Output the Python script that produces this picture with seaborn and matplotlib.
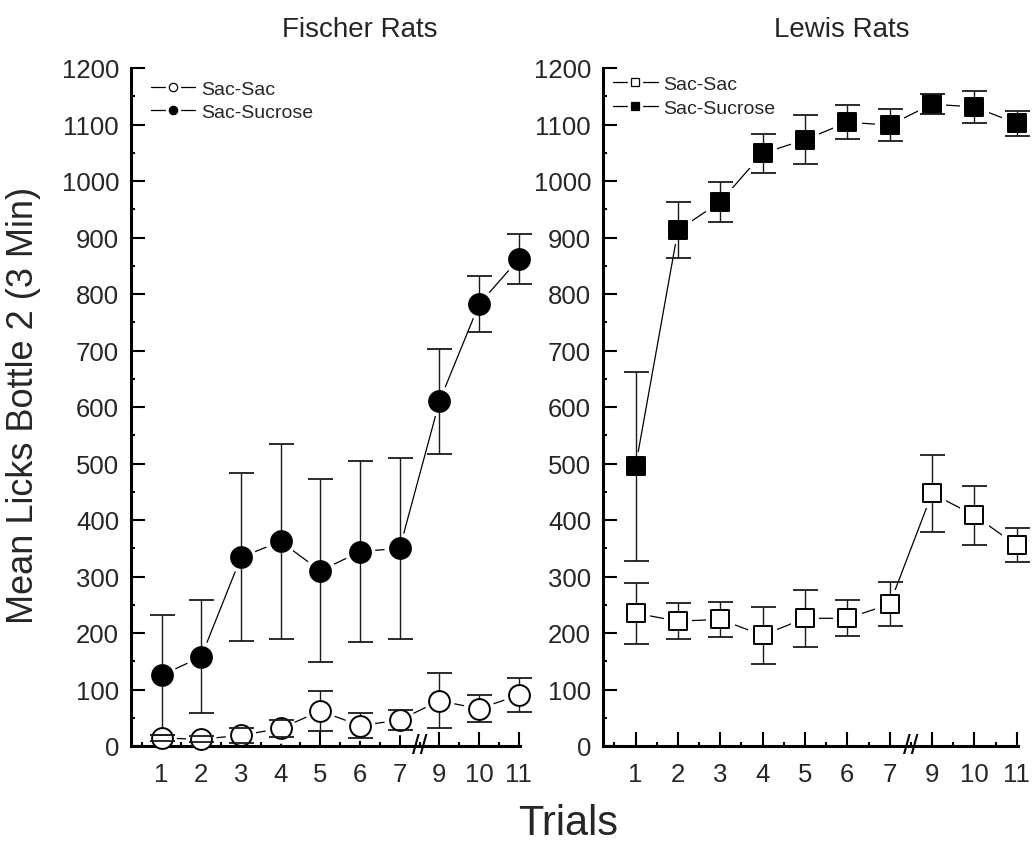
import numpy as np
import pandas as pd
import matplotlib
matplotlib.use("Agg")
import matplotlib.pyplot as plt
import matplotlib.transforms as mtransforms
from matplotlib.lines import Line2D
from matplotlib.legend_handler import HandlerTuple
from matplotlib.ticker import MultipleLocator
import seaborn as sns

# ---------------- data ----------------
trials = ['1', '2', '3', '4', '5', '6', '7', '9', '10', '11']

fischer_sac_mean = [14, 12, 19, 31, 62, 36, 46, 80, 66, 90]
fischer_sac_sem = [5, 5, 13, 15, 35, 22, 17, 49, 24, 30]
fischer_suc_mean = [125, 158, 334, 362, 310, 344, 350, 610, 782, 862]
fischer_suc_sem = [106, 100, 149, 172, 162, 160, 160, 93, 49, 44]

lewis_sac_mean = [235, 221, 224, 196, 226, 226, 251, 447, 408, 355]
lewis_sac_sem = [54, 32, 31, 50, 50, 32, 39, 68, 53, 30]
lewis_suc_mean = [495, 913, 963, 1049, 1073, 1104, 1099, 1136, 1131, 1102]
lewis_suc_sem = [167, 50, 36, 34, 43, 30, 29, 18, 29, 22]

series_labels = ['Sac-Sac', 'Sac-Sucrose']
panel_titles = ['Fischer Rats', 'Lewis Rats']
y_ticks = list(range(0, 1300, 100))

# ---------------- style ----------------
sns.set_style("ticks")
plt.rcParams['font.family'] = ['Liberation Sans', 'DejaVu Sans']

W, H = 1033, 845
fig = plt.figure(figsize=(W / 100, H / 100), dpi=100)
ax1 = fig.add_axes([131 / W, 1 - 747 / H, 389 / W, 678 / H])
ax2 = fig.add_axes([603 / W, 1 - 747 / H, 415 / W, 678 / H])

pos = np.arange(1, len(trials) + 1)


def draw_panel(ax, means, sems, marker, ms, leg_anchor):
    facecols = ['white', 'black']
    for m, e, fc in zip(means, sems, facecols):
        df = pd.DataFrame({'pos': pos, 'val': m})
        sns.lineplot(data=df, x='pos', y='val', ax=ax, color='black',
                     lw=0.9, estimator=None, zorder=1, legend=False,
                     clip_on=False)
        sns.scatterplot(data=df, x='pos', y='val', ax=ax, marker=marker,
                        s=(ms + 7) ** 2, color='white', edgecolor='none',
                        linewidth=0, zorder=2, legend=False, clip_on=False)
        eb = ax.errorbar(pos, m, yerr=e, fmt='none', ecolor='#1a1a1a',
                         elinewidth=1.0, capsize=9, capthick=1.3, zorder=3)
        for cl in eb[1]:
            cl.set_zorder(5)
            cl.set_clip_on(False)
        for bl in eb[2]:
            bl.set_clip_on(False)
        sns.scatterplot(data=df, x='pos', y='val', ax=ax, marker=marker,
                        s=ms ** 2, color=fc, edgecolor='black',
                        linewidth=1.4, zorder=4, legend=False, clip_on=False)

    ax.set_xlim(0.23, 10.03)
    ax.set_ylim(0, 1200)
    ax.set_xticks(pos)
    ax.set_xticklabels(trials)
    ax.set_yticks(y_ticks)
    ax.xaxis.set_minor_locator(MultipleLocator(0.5))
    ax.yaxis.set_minor_locator(MultipleLocator(50))
    ax.tick_params(axis='both', which='major', direction='in', length=10,
                   width=1.5, labelsize=18.5, color='black')
    ax.tick_params(axis='both', which='minor', direction='in', length=3,
                   width=1.5, color='black')
    ax.tick_params(axis='x', which='major', pad=11.5)
    ax.tick_params(axis='y', which='major', pad=8.6)
    ax.tick_params(top=False, right=False, which='both')
    for side in ['top', 'right']:
        ax.spines[side].set_visible(False)
    for side in ['left', 'bottom']:
        ax.spines[side].set_linewidth(2.2)
        ax.spines[side].set_color('black')
    ax.set_xlabel('')
    ax.set_ylabel('')

    # axis break mark between trial 7 and trial 9
    trans = mtransforms.blended_transform_factory(ax.transData, ax.transAxes)
    ax.text(7.5, 0.0, '//', transform=trans, ha='center', va='center',
            fontsize=20, color='black', clip_on=False, zorder=6)

    # legend with gapped line handles
    handles = []
    for fc in facecols:
        ln = Line2D([], [], color='black', lw=0.9)
        halo = Line2D([], [], ls='', marker=marker, ms=10, mfc='white', mec='white')
        mk = Line2D([], [], ls='', marker=marker, ms=6, mfc=fc, mec='black', mew=0.9)
        handles.append((ln, halo, mk))
    ax.legend(handles=handles, labels=series_labels,
              handler_map={tuple: HandlerTuple(ndivide=1, pad=0)},
              loc='upper left', bbox_to_anchor=leg_anchor, frameon=False,
              fontsize=14, borderpad=0, borderaxespad=0, handlelength=2.3,
              handletextpad=0.3, labelspacing=0.3)


draw_panel(ax1, [fischer_sac_mean, fischer_suc_mean],
           [fischer_sac_sem, fischer_suc_sem], 'o', 15, (0.0506, 0.982))
draw_panel(ax2, [lewis_sac_mean, lewis_suc_mean],
           [lewis_sac_sem, lewis_suc_sem], 's', 13.5, (0.024, 0.989))

fig.text(360 / W, 1 - 37.3 / H, panel_titles[0], ha='center', va='baseline', fontsize=20)
fig.text(842 / W, 1 - 37.3 / H, panel_titles[1], ha='center', va='baseline', fontsize=20)
fig.text(0.023, 1 - 405 / H, 'Mean Licks Bottle 2 (3 Min)', rotation=90,
         ha='center', va='center', fontsize=26)
fig.text(0.55, 0.001, 'Trials', ha='center', va='bottom', fontsize=30)

fig.savefig('out.png', dpi=100)
